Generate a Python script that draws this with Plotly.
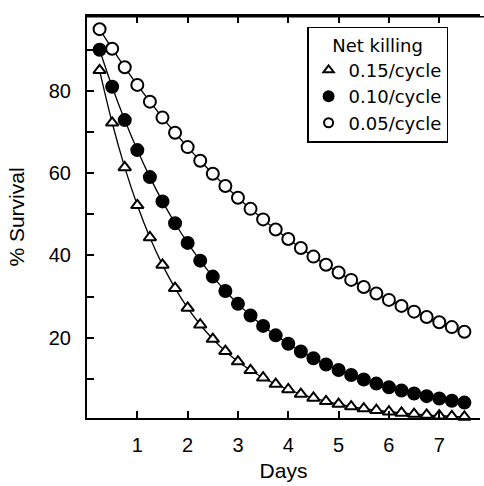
import plotly.graph_objects as go

days = [0.25, 0.5, 0.75, 1.0, 1.25, 1.5, 1.75, 2.0, 2.25, 2.5, 2.75, 3.0, 3.25, 3.5, 3.75,
        4.0, 4.25, 4.5, 4.75, 5.0, 5.25, 5.5, 5.75, 6.0, 6.25, 6.5, 6.75, 7.0, 7.25, 7.5]

kill_015 = [85.00, 72.25, 61.41, 52.20, 44.37, 37.71, 32.06, 27.25, 23.16, 19.69,
            16.73, 14.22, 12.09, 10.28, 8.74, 7.43, 6.31, 5.37, 4.56, 3.88,
            3.29, 2.80, 2.38, 2.02, 1.72, 1.46, 1.24, 1.06, 0.90, 0.76]
kill_010 = [90.00, 81.00, 72.90, 65.61, 59.05, 53.14, 47.83, 43.05, 38.74, 34.87,
            31.38, 28.24, 25.42, 22.88, 20.59, 18.53, 16.68, 15.01, 13.51, 12.16,
            10.94, 9.85, 8.86, 7.98, 7.18, 6.46, 5.81, 5.23, 4.71, 4.24]
kill_005 = [95.00, 90.25, 85.74, 81.45, 77.38, 73.51, 69.83, 66.34, 63.02, 59.87,
            56.88, 54.04, 51.33, 48.77, 46.33, 44.01, 41.81, 39.72, 37.74, 35.85,
            34.06, 32.35, 30.74, 29.20, 27.74, 26.35, 25.03, 23.78, 22.59, 21.46]

series_names = ["0.15/cycle", "0.10/cycle", "0.05/cycle"]
x_tickvals = [1, 2, 3, 4, 5, 6, 7]
y_tickvals = [10, 20, 30, 40, 50, 60, 70, 80, 90]
y_ticktext = ["", "20", "", "40", "", "60", "", "80", ""]

FONT = "Liberation Sans, Arial, sans-serif"
LFONT = "DejaVu Sans, sans-serif"

fig = go.Figure()

series = [
    (kill_015, series_names[0], "triangle-up", "white", 11, 9),
    (kill_010, series_names[1], "circle", "black", 12, 10),
    (kill_005, series_names[2], "circle", "white", 12, 9),
]

for vals, name, sym, fill, size, lsize in series:
    fig.add_trace(go.Scatter(
        x=days, y=vals, mode="lines", line=dict(color="black", width=1.3, shape="spline"),
        showlegend=False, hoverinfo="skip", cliponaxis=False))

for vals, name, sym, fill, size, lsize in series:
    fig.add_trace(go.Scatter(
        x=days, y=vals, mode="markers", name=name, showlegend=False,
        marker=dict(symbol=sym, color=fill, size=size, line=dict(color="black", width=2)),
        cliponaxis=False))

# legend-only entries (smaller symbols, as in the reference key)
for vals, name, sym, fill, size, lsize in series:
    fig.add_trace(go.Scatter(
        x=[None], y=[None], mode="markers", name=name, showlegend=True,
        marker=dict(symbol=sym, color=fill, size=lsize, line=dict(color="black", width=2))))

# top frame band of the plot area, extending to the right edge as in the reference
fig.add_shape(type="rect", xref="paper", yref="paper", x0=-0.003, x1=1.01,
              y0=0.996, y1=1.0, fillcolor="black", line=dict(width=0), layer="above")

fig.update_layout(
    width=484, height=486,
    margin=dict(l=87, r=4, t=16, b=68, autoexpand=False),
    paper_bgcolor="white", plot_bgcolor="white",
    font=dict(family=FONT, size=20, color="black"),
    showlegend=True,
    legend=dict(
        x=0.56, y=0.973, xanchor="left", yanchor="top",
        bordercolor="black", borderwidth=1.5, bgcolor="white",
        font=dict(family=LFONT, size=18, color="black"),
        title=dict(text="Net killing", side="top center",
                   font=dict(family=LFONT, size=18, color="black")),
        itemsizing="trace", tracegroupgap=0,
    ),
    xaxis=dict(
        range=[0, 7.81], tickvals=x_tickvals, ticks="inside", ticklen=7, tickwidth=1.5,
        tickcolor="black", showline=True, linecolor="black", linewidth=2, mirror="ticks",
        showgrid=False, zeroline=False, ticklabelstandoff=8, automargin=False,
        title=dict(text="Days", font=dict(family=FONT, size=21), standoff=8),
        tickfont=dict(family=FONT, size=20),
    ),
    yaxis=dict(
        range=[0.5, 98.2], tickvals=y_tickvals, ticktext=y_ticktext, ticks="inside",
        ticklen=7, tickwidth=1.5, tickcolor="black", showline=True, linecolor="black",
        linewidth=2, mirror=False, showgrid=False, zeroline=False, ticklabelstandoff=10,
        automargin=False,
        title=dict(text="% Survival", font=dict(family=FONT, size=21), standoff=18),
        tickfont=dict(family=FONT, size=20),
    ),
)

fig.write_html("out.html", config={"displayModeBar": False},
               post_script="document.body.style.margin='0';")
